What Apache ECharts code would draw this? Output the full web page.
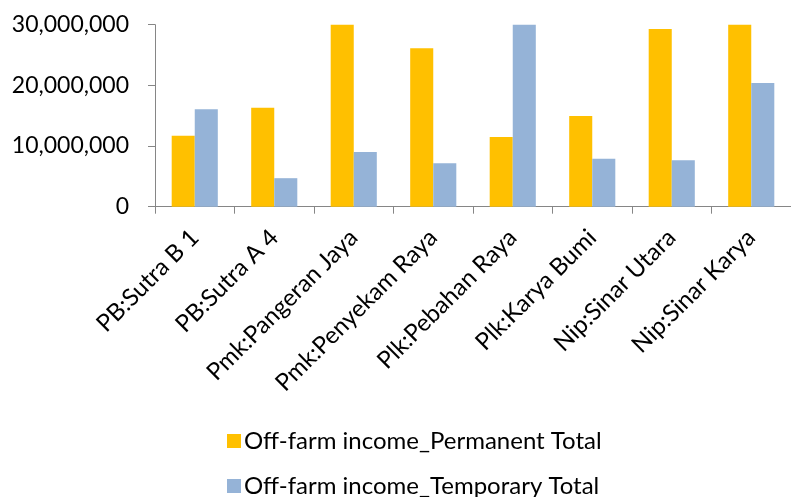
<!DOCTYPE html>
<html>
<head>
<meta charset="utf-8">
<script src="https://cdn.jsdelivr.net/npm/echarts@6/dist/echarts.min.js"></script>
<style>
  html, body { margin: 0; padding: 0; background: #fff; }
  #chart { width: 791px; height: 497px; }
</style>
</head>
<body>
<div id="chart"></div>
<script>
// Villages (district:village)
const categories = [
  'PB:Sutra B 1', 'PB:Sutra A 4', 'Pmk:Pangeran Jaya', 'Pmk:Penyekam Raya',
  'Plk:Pebahan Raya', 'Plk:Karya Bumi', 'Nip:Sinar Utara', 'Nip:Sinar Karya'
];
// Off-farm income totals
const permanentTotal = [11700000, 16300000, 30000000, 26100000, 11500000, 14950000, 29300000, 30000000];
const temporaryTotal = [16050000, 4700000, 9000000, 7150000, 30000000, 7900000, 7650000, 20400000];
const yTicks = [0, 10000000, 20000000, 30000000];

const seriesNames = ['Off-farm income_Permanent Total', 'Off-farm income_Temporary Total'];
const FONT = 'Lato';
const axisGrey = '#868686';

// one legend box per series, stacked
const legendItem = (name, top) => ({
  left: 222,
  top: top,
  itemWidth: 14,
  itemHeight: 14,
  icon: 'rect',
  textStyle: { fontFamily: FONT, fontSize: 24, color: '#000', padding: [0, 0, 0, -2] },
  data: [name]
});

const chart = echarts.init(document.getElementById('chart'), null, { renderer: 'canvas' });
chart.setOption({
  animation: false,
  textStyle: { fontFamily: FONT },
  grid: { left: 155, top: 24.7, height: 182, width: 643, containLabel: false },
  legend: [legendItem(seriesNames[0], 424), legendItem(seriesNames[1], 469)],
  xAxis: {
    type: 'category',
    data: categories,
    boundaryGap: true,
    axisLine: { lineStyle: { color: axisGrey, width: 1 } },
    axisTick: { show: true, length: 7, lineStyle: { color: axisGrey } },
    axisLabel: { rotate: 45, margin: 27, fontSize: 24, color: '#000', fontFamily: FONT, interval: 0 }
  },
  yAxis: {
    type: 'value',
    min: yTicks[0],
    max: yTicks[yTicks.length - 1],
    interval: yTicks[1] - yTicks[0],
    splitLine: { show: false },
    axisLine: { show: true, lineStyle: { color: axisGrey, width: 1 } },
    axisTick: { show: true, length: 7, lineStyle: { color: axisGrey } },
    axisLabel: {
      margin: 26, fontSize: 23, color: '#000', fontFamily: FONT,
      formatter: v => v.toLocaleString('en-US')
    }
  },
  series: [
    {
      name: seriesNames[0], type: 'bar', data: permanentTotal,
      itemStyle: { color: '#FFC000' }, barGap: '0%', barCategoryGap: '42%'
    },
    {
      name: seriesNames[1], type: 'bar', data: temporaryTotal,
      itemStyle: { color: '#95B3D7' }, barGap: '0%', barCategoryGap: '42%'
    }
  ]
});
</script>
</body>
</html>
